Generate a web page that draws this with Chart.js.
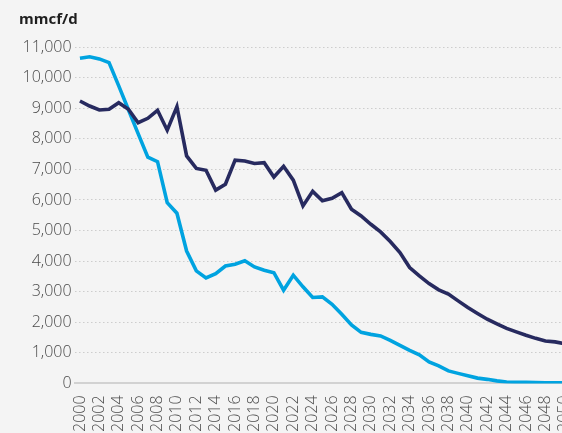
<!DOCTYPE html>
<html>
<head>
<meta charset="utf-8">
<script src="https://cdn.jsdelivr.net/npm/chart.js@4/dist/chart.umd.min.js"></script>
<style>
  html, body { margin: 0; padding: 0; background: #f4f4f4; overflow: hidden; width: 562px; height: 433px; }
  #wrap { position: absolute; left: 0; top: 0; width: 588px; height: 438px; }
</style>
</head>
<body>
<div id="wrap"><canvas id="c"></canvas></div>
<script>
const years = [];
for (let y = 2000; y <= 2050; y++) years.push(String(y));

const unitLabel = "mmcf/d";

const navySeries = [
  9235, 9070, 8940, 8965, 9180, 8965, 8525, 8670, 8930, 8280,
  9050, 7440, 7030, 6970, 6320, 6515, 7300, 7275, 7190, 7220,
  6750, 7100, 6645, 5805, 6280, 5970, 6055, 6240, 5695, 5475,
  5205, 4955, 4640, 4280, 3790, 3515, 3265, 3060, 2925, 2700,
  2485, 2290, 2100, 1950, 1800, 1685, 1575, 1475, 1390, 1360,
  1300
];

const lightSeries = [
  10630, 10680, 10610, 10490, 9730, 8950, 8170, 7400, 7250, 5910,
  5565, 4330, 3680, 3450, 3590, 3840, 3900, 4010, 3810, 3700,
  3620, 3050, 3540, 3160, 2810, 2830, 2590, 2260, 1915, 1670,
  1605, 1555, 1410, 1245, 1080, 935, 705, 575, 410, 330,
  250, 175, 135, 85, 50, 40, 35, 30, 25, 20,
  20
];

const yMin = 0, yMax = 11000, yStep = 1000;

const tickFont = { family: "'Open Sans', 'Liberation Sans', sans-serif", size: 16, weight: '300' };

new Chart(document.getElementById('c'), {
  type: 'line',
  data: {
    labels: years,
    datasets: [
      { data: navySeries, borderColor: '#272a5f', borderWidth: 3.6, pointRadius: 0, tension: 0, fill: false },
      { data: lightSeries, borderColor: '#00a3e0', borderWidth: 3.6, pointRadius: 0, tension: 0, fill: false }
    ]
  },
  options: {
    responsive: true,
    maintainAspectRatio: false,
    animation: false,
    layout: { padding: { left: 19, right: 0, top: 0, bottom: 2 } },
    plugins: {
      legend: { display: false },
      tooltip: { enabled: false },
      title: {
        display: true,
        text: unitLabel,
        align: 'start',
        color: '#1e1e1e',
        font: { family: "'Open Sans', 'Liberation Sans', sans-serif", size: 15, weight: 'bold' },
        padding: { top: 11, bottom: 18 }
      }
    },
    scales: {
      x: {
        type: 'category',
        offset: true,
        grid: { display: false },
        border: { display: true, color: '#d2d2d2', width: 2 },
        ticks: {
          autoSkip: false,
          minRotation: 90,
          maxRotation: 90,
          padding: 4,
          color: '#4a4a4a',
          font: tickFont,
          callback: function (v, i) { return i % 2 === 0 ? this.getLabelForValue(v) : ''; }
        }
      },
      y: {
        min: yMin,
        max: yMax,
        grid: { color: '#cdcdcd', lineWidth: 1, drawTicks: false },
        border: { display: false, dash: [1.5, 2.5] },
        ticks: {
          stepSize: yStep,
          padding: 3.5,
          color: '#4a4a4a',
          font: tickFont
        }
      }
    }
  }
});
</script>
</body>
</html>
